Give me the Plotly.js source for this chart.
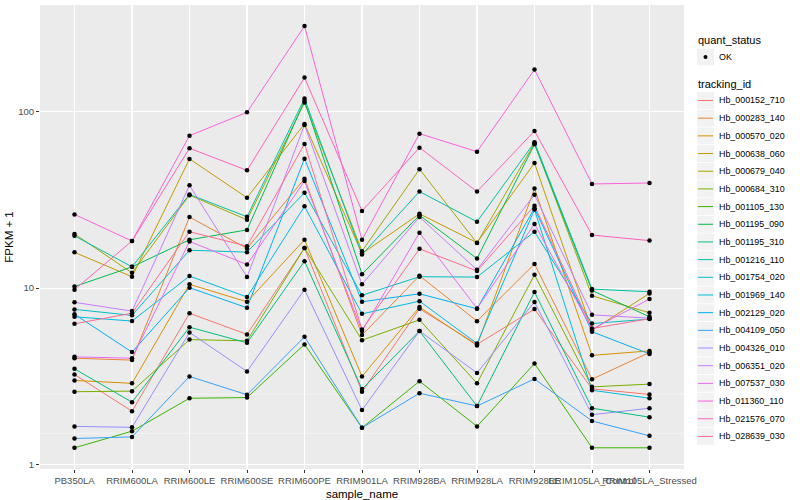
<!DOCTYPE html>
<html>
<head>
<meta charset="utf-8">
<script src="https://cdn.plot.ly/plotly-3.0.1.min.js"></script>
<style>html,body{margin:0;padding:0;background:#fff;}#chart{width:800px;height:500px;}</style>
</head>
<body>
<div id="chart"></div>
<script>
// categories
const samples = ["PB350LA","RRIM600LA","RRIM600LE","RRIM600SE","RRIM600PE","RRIM901LA","RRIM928BA","RRIM928LA","RRIM928LE","RRIM105LA_Control","RRIM105LA_Stressed"];

// tracking ids (legend order)
const trackingIds = ["Hb_000152_710","Hb_000283_140","Hb_000570_020","Hb_000638_060","Hb_000679_040","Hb_000684_310","Hb_001105_130","Hb_001195_090","Hb_001195_310","Hb_001216_110","Hb_001754_020","Hb_001969_140","Hb_002129_020","Hb_004109_050","Hb_004326_010","Hb_006351_020","Hb_007537_030","Hb_011360_110","Hb_021576_070","Hb_028639_030"];

// FPKM + 1 per tracking id, in sample order
const Hb_000152_710 = [3.23, 2.0, 7.2, 5.46, 16.9, 2.58, 7.63, 4.79, 7.6, 2.68, 2.49];
const Hb_000283_140 = [4.0, 3.9, 25.3, 16.8, 41.8, 5.41, 11.75, 6.49, 13.7, 3.04, 4.31];
const Hb_000570_020 = [2.99, 2.88, 10.5, 8.36, 18.8, 3.15, 7.8, 4.72, 36.7, 4.15, 4.4];
const Hb_000638_060 = [15.96, 11.6, 54.1, 32.6, 85.5, 15.7, 26.4, 18.1, 51.3, 5.77, 9.33];
const Hb_000679_040 = [20.3, 12.2, 33.7, 24.4, 113, 16.2, 47.3, 18.0, 66.5, 9.04, 7.24];
const Hb_000684_310 = [2.58, 2.6, 5.1, 5.02, 16.9, 5.06, 6.6, 2.88, 11.9, 2.75, 2.85];
const Hb_001105_130 = [1.24, 1.54, 2.37, 2.39, 4.79, 1.61, 2.96, 1.64, 3.73, 1.24, 1.24];
const Hb_001195_090 = [10.2, 13.2, 18.8, 21.4, 115.6, 12.0, 25.9, 14.7, 65.6, 9.7, 6.87];
const Hb_001195_310 = [3.48, 2.25, 6.0, 4.89, 14.2, 2.67, 5.7, 2.14, 9.5, 2.08, 1.85];
const Hb_001216_110 = [19.8, 13.2, 34.0, 25.4, 119, 15.5, 35.3, 23.8, 67.3, 9.87, 9.53];
const Hb_001754_020 = [7.57, 7.0, 16.4, 16.0, 34.8, 9.1, 11.6, 11.55, 20.9, 6.29, 6.67];
const Hb_001969_140 = [6.87, 6.5, 11.7, 8.9, 29.1, 7.14, 8.43, 4.85, 27.9, 2.63, 2.37];
const Hb_002129_020 = [7.1, 4.33, 10.05, 7.73, 54.3, 8.36, 9.28, 7.63, 28.4, 5.65, 4.23];
const Hb_004109_050 = [1.40, 1.43, 3.15, 2.48, 5.29, 1.61, 2.53, 2.14, 3.05, 1.76, 1.45];
const Hb_004326_010 = [1.64, 1.62, 5.6, 3.36, 9.8, 2.03, 5.7, 3.30, 8.33, 1.91, 2.08];
const Hb_006351_020 = [8.3, 7.4, 38.3, 11.55, 84.4, 10.5, 25.3, 12.7, 33.9, 7.05, 6.75];
const Hb_007537_030 = [4.07, 4.0, 18.4, 13.6, 40.5, 5.7, 20.6, 7.66, 23.1, 5.85, 8.66];
const Hb_011360_110 = [26.2, 18.5, 73.3, 99.5, 307, 18.8, 75.3, 59.5, 174, 39, 39.5];
const Hb_021576_070 = [9.8, 18.5, 62.2, 46.6, 156.6, 27.4, 62.7, 35.3, 78, 20, 18.6];
const Hb_028639_030 = [6.27, 7.2, 20.9, 17.3, 65.8, 5.82, 16.7, 12.5, 29.3, 5.9, 6.7];

const seriesValues = [Hb_000152_710,Hb_000283_140,Hb_000570_020,Hb_000638_060,Hb_000679_040,Hb_000684_310,Hb_001105_130,Hb_001195_090,Hb_001195_310,Hb_001216_110,Hb_001754_020,Hb_001969_140,Hb_002129_020,Hb_004109_050,Hb_004326_010,Hb_006351_020,Hb_007537_030,Hb_011360_110,Hb_021576_070,Hb_028639_030];

const lineColors = ["#F8766D","#EA8331","#D89000","#C09B00","#A3A500","#7CAE00","#39B600","#00BB4E","#00BF7D","#00C1A3","#00BFC4","#00BAE0","#00B0F6","#35A2FF","#9590FF","#C77CFF","#E76BF3","#FA62DB","#FF62BC","#FF6C91"];

const FONT = "Liberation Sans, Arial, sans-serif";
const W = 800, H = 500, ML = 40, MR = 116, MT = 5, MB = 31;
const PW = W - ML - MR, PH = H - MT - MB;
const px2x = p => (p - ML) / PW;
const px2y = p => (H - MB - p) / PH;

const traces = [];
trackingIds.forEach((id, i) => {
  traces.push({
    type: "scatter", mode: "lines", x: samples, y: seriesValues[i], name: id,
    line: {color: lineColors[i], width: 1}, showlegend: false, hoverinfo: "skip"
  });
});
// points (quant_status = OK)
const ptX = [], ptY = [];
seriesValues.forEach(v => v.forEach((val, j) => { ptX.push(samples[j]); ptY.push(val); }));
traces.push({
  type: "scatter", mode: "markers", x: ptX, y: ptY, name: "OK",
  marker: {color: "#000", size: 4.5}, showlegend: false
});

// minor gridlines (log10 positions)
const shapes = [0.5, 1.5, 2.5].map(v => ({
  type: "line", xref: "paper", yref: "y", x0: 0, x1: 1, y0: v, y1: v,
  line: {color: "#FFFFFF", width: 0.5}, layer: "below"
}));
const annotations = [];

// ggplot-style legend
const keyL = 697, keyR = 714, textX = 717, titleX = 696;
function keyBox(cy) {
  shapes.push({type: "rect", xref: "paper", yref: "paper",
    x0: px2x(keyL), x1: px2x(keyR), y0: px2y(cy + 8.4), y1: px2y(cy - 8.4),
    fillcolor: "#F2F2F2", line: {width: 0}});
}
function legText(txt, x, y, size) {
  annotations.push({xref: "paper", yref: "paper", x: px2x(x), y: px2y(y),
    xanchor: "left", yanchor: "middle", showarrow: false, text: txt,
    font: {size: size, color: "#000", family: FONT}});
}
legText("quant_status", titleX, 40, 11);
keyBox(57);
shapes.push({type: "circle", xref: "paper", yref: "paper",
  x0: px2x(703.5), x1: px2x(707.5), y0: px2y(59), y1: px2y(55),
  fillcolor: "#000", line: {width: 0}});
legText("OK", textX, 57, 8.9);
legText("tracking_id", titleX, 84, 11);
trackingIds.forEach((id, i) => {
  const cy = 100.5 + i * 17.68;
  keyBox(cy);
  shapes.push({type: "line", xref: "paper", yref: "paper",
    x0: px2x(keyL + 1), x1: px2x(keyR - 1), y0: px2y(cy), y1: px2y(cy),
    line: {color: lineColors[i], width: 1}});
  legText(id, textX, cy, 8.9);
});

const layout = {
  width: W, height: H,
  margin: {l: ML, r: MR, t: MT, b: MB},
  paper_bgcolor: "#FFFFFF", plot_bgcolor: "#EBEBEB",
  font: {family: FONT, color: "#4D4D4D", size: 9.5},
  showlegend: false,
  shapes: shapes,
  annotations: annotations,
  xaxis: {
    type: "category", range: [-0.6, 10.6], tickangle: 0,
    showgrid: true, gridcolor: "#FFFFFF", gridwidth: 1.1,
    zeroline: false, showline: false,
    ticks: "outside", ticklen: 3, tickcolor: "#333333", tickwidth: 1,
    tickfont: {size: 9.5, color: "#4D4D4D"},
    title: {text: "sample_name", font: {size: 11.5, color: "#000"}, standoff: 9}
  },
  yaxis: {
    type: "log", range: [-0.027, 2.607],
    tickvals: [1, 10, 100], ticktext: ["1", "10", "100"],
    showgrid: true, gridcolor: "#FFFFFF", gridwidth: 1.1,
    zeroline: false, showline: false,
    ticks: "outside", ticklen: 3, tickcolor: "#333333", tickwidth: 1,
    tickfont: {size: 9.5, color: "#4D4D4D"},
    title: {text: "FPKM + 1", font: {size: 11.5, color: "#000"}, standoff: 2}
  },
  hovermode: false
};

Plotly.newPlot("chart", traces, layout, {staticPlot: true, displayModeBar: false});
</script>
</body>
</html>
